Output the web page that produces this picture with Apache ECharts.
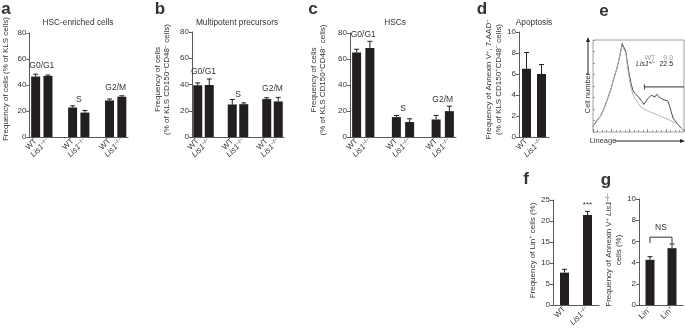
<!DOCTYPE html>
<html>
<head>
<meta charset="utf-8">
<script src="https://cdn.jsdelivr.net/npm/echarts@6/dist/echarts.min.js"></script>
<style>
html, body { margin: 0; padding: 0; background: #fff; }
#main { width: 685px; height: 331px; }
</style>
</head>
<body>
<div id="main"></div>
<script>
// cell-cycle panels (a, b, c): WT / Lis1 pairs for G0/G1, S, G2/M
var phaseCats = ['WT', 'Lis1', '', 'WT', 'Lis1', '', 'WT', 'Lis1'];
var phaseNames = ['G0/G1', 'S', 'G2/M'];
var phaseStart = [0, 3, 6];

var hscEnrichedVals = [46.5, 47.0, null, 22.7, 18.8, null, 28.1, 31.0];
var hscEnrichedErr = [1.8, 0.7, null, 1.3, 1.6, null, 1.1, 0.7];
var hscEnrichedLabelY = [54.6, 29, 37.7];

var mppVals = [39.4, 39.6, null, 24.8, 25.0, null, 28.9, 27.1];
var mppErr = [1.8, 4.6, null, 3.8, 1.0, null, 1.0, 3.1];
var mppLabelY = [49.5, 32.6, 36.5];

var hscVals = [65.0, 68.5, null, 15.3, 11.5, null, 13.5, 19.9];
var hscErr = [2.5, 5.1, null, 1.3, 2.5, null, 3.1, 3.8];
var hscLabelY = [79, 22, 29];

// d, f, g
var genoCats = ['WT', 'Lis1'];
var apoptosisVals = [6.5, 6.0];
var apoptosisErr = [1.55, 0.9];

var linPosVals = [7.7, 21.4];
var linPosErr = [0.8, 0.9];

var linCats = ['Lin-', 'Lin+'];
var annexinVals = [4.26, 5.36];
var annexinErr = [0.3, 0.4];

// e: lineage histogram (x = lineage, % of range; y = cell number, % of max)
var histX = [0, 2, 4, 6, 8, 10, 12, 14, 16, 18, 20, 22, 24, 26, 28, 30, 32, 34, 36, 38, 40,
  42, 44, 46, 48, 50, 52, 54, 56, 58, 60, 62, 64, 66, 68, 70, 72, 74, 76, 78, 80,
  82, 84, 86, 88, 90, 92, 94, 96, 98, 100];
var histLis1 = [6, 8, 12, 13, 17, 21, 25, 31, 36, 42, 48, 55, 62, 68, 76, 85, 96, 97, 88, 74, 62,
  52, 45, 42, 40, 38, 36, 33, 30, 32, 36, 38, 40, 41, 38, 41, 40, 37, 39, 35, 33,
  34, 29, 22, 15, 14, 10, 7, 6, 3, 1];
var histWT = [6, 8, 11, 14, 17, 20, 25, 30, 36, 41, 47, 55, 61, 69, 77, 86, 94, 96, 86, 70, 57,
  47, 41, 37, 34, 31, 28, 26, 25, 24, 23, 22, 21, 21, 20, 19, 18, 17, 16, 15, 15,
  14, 13, 12, 11, 10, 9, 8, 6, 3, 1];
var gateNames = ['WT', 'Lis1'];
var gateValues = ['9.0', '22.5'];

var font = 'Liberation Sans, Arial, sans-serif';
var ink = '#333333';
var barInk = '#231f20';
var axisInk = '#5a5a5a';
var fs = 8;

var rich = {
  i: { fontStyle: 'italic', fontSize: fs, lineHeight: 9.5, fontFamily: font, color: ink },
  s: { fontSize: 5.5, lineHeight: 5.5, verticalAlign: 'top', fontFamily: font, color: ink }
};

function catLabel(v) {
  if (v === 'Lis1') return '{i|Lis1}{s|−/−}';
  if (v === 'Lin-') return 'Lin{s|−}';
  if (v === 'Lin+') return 'Lin{s|+}';
  return v;
}

var grids = [
  { left: 29, top: 33, width: 99, height: 104 },   // a
  { left: 192, top: 32, width: 92, height: 105 },  // b
  { left: 350, top: 33, width: 106, height: 104 }, // c
  { left: 519, top: 32, width: 30, height: 105 },  // d
  { left: 593, top: 40, width: 91, height: 92, show: true, borderColor: '#a0a0a0', borderWidth: 1 }, // e
  { left: 553, top: 200, width: 46, height: 105 }, // f
  { left: 639, top: 199, width: 44, height: 106 }  // g
];

function catAxis(gi, cats) {
  return {
    type: 'category', gridIndex: gi, data: cats,
    axisLine: { lineStyle: { color: axisInk, width: 1 } },
    axisTick: { show: false },
    axisLabel: { rotate: 45, margin: 3, interval: 0, fontSize: fs, lineHeight: 9.5, color: ink,
      fontFamily: font, formatter: catLabel, rich: rich }
  };
}

function valAxis(gi, max, interval, name, gap, lift) {
  return {
    type: 'value', gridIndex: gi, min: 0, max: max, interval: interval,
    axisLine: { show: true, lineStyle: { color: axisInk, width: 1 } },
    axisTick: { show: true, length: 3, lineStyle: { color: axisInk } },
    axisLabel: { fontSize: fs, color: ink, margin: 3, fontFamily: font },
    splitLine: { show: false },
    name: name, nameLocation: 'middle', nameGap: gap, nameRotate: 90,
    nameTextStyle: { fontSize: fs, lineHeight: 9.5, color: ink, fontFamily: font, rich: rich,
      padding: [0, 0, 0, lift || 0] }
  };
}

function barSeries(gi, vals) {
  return { type: 'bar', xAxisIndex: gi, yAxisIndex: gi, data: vals, barWidth: 9,
    itemStyle: { color: barInk }, silent: true };
}

function errSeries(gi, vals, errs) {
  var d = [];
  vals.forEach(function (v, i) { if (v != null) d.push([i, v, v + errs[i]]); });
  return {
    type: 'custom', xAxisIndex: gi, yAxisIndex: gi, data: d, silent: true,
    encode: { x: 0, y: [1, 2] },
    renderItem: function (params, api) {
      var p0 = api.coord([api.value(0), api.value(1)]);
      var p1 = api.coord([api.value(0), api.value(2)]);
      var st = { stroke: barInk, lineWidth: 1 };
      return { type: 'group', children: [
        { type: 'line', shape: { x1: p0[0], y1: p0[1], x2: p1[0], y2: p1[1] }, style: st },
        { type: 'line', shape: { x1: p1[0] - 2.5, y1: p1[1], x2: p1[0] + 2.5, y2: p1[1] }, style: st }
      ] };
    }
  };
}

function phaseLabelSeries(gi, ys) {
  return {
    type: 'custom', xAxisIndex: gi, yAxisIndex: gi, silent: true,
    data: phaseStart.map(function (s, k) { return [s, ys[k], k]; }),
    encode: { x: 0, y: 1 },
    renderItem: function (params, api) {
      var a = api.coord([api.value(0), api.value(1)]);
      var b = api.coord([api.value(0) + 1, api.value(1)]);
      return { type: 'text', x: (a[0] + b[0]) / 2, y: a[1],
        style: { text: phaseNames[api.value(2)], fill: ink, font: '8.5px ' + font,
          align: 'center', verticalAlign: 'middle' } };
    }
  };
}

var xAxes = [
  catAxis(0, phaseCats), catAxis(1, phaseCats), catAxis(2, phaseCats), catAxis(3, genoCats),
  { type: 'value', gridIndex: 4, min: 0, max: 100, interval: 20,
    axisLine: { show: false }, axisLabel: { show: false }, splitLine: { show: false },
    axisTick: { inside: true, length: 3, lineStyle: { color: '#888' } },
    minorTick: { show: true, splitNumber: 4, length: 2, lineStyle: { color: '#999' } } },
  catAxis(5, genoCats), catAxis(6, linCats)
];

var yAxes = [
  valAxis(0, 80, 20, 'Frequency of cells (% of KLS cells)', 19, 12),
  valAxis(1, 80, 20, 'Frequency of cells\n(% of KLS CD150{s|−}CD48{s|−} cells)', 20, 10),
  valAxis(2, 80, 20, 'Frequency of cells\n(% of KLS CD150{s|+}CD48{s|−} cells)', 22, 10),
  valAxis(3, 10, 2, 'Frequency of Annexin V{s|+}, 7-AAD{s|−}\n(% of KLS CD150{s|+}CD48{s|−} cells)', 10, 10),
  { type: 'value', gridIndex: 4, min: 0, max: 100, interval: 12.5,
    axisLine: { show: false }, axisLabel: { show: false }, splitLine: { show: false },
    axisTick: { inside: true, length: 2, lineStyle: { color: '#999' } } },
  valAxis(5, 25, 5, 'Frequency of Lin{s|+} cells (%)', 15, 4),
  valAxis(6, 10, 2, 'Frequency of Annexin V{s|+} {i|Lis1}{s|−/−}\ncells (%)', 14, 4)
];

var series = [
  barSeries(0, hscEnrichedVals), errSeries(0, hscEnrichedVals, hscEnrichedErr), phaseLabelSeries(0, hscEnrichedLabelY),
  barSeries(1, mppVals), errSeries(1, mppVals, mppErr), phaseLabelSeries(1, mppLabelY),
  barSeries(2, hscVals), errSeries(2, hscVals, hscErr), phaseLabelSeries(2, hscLabelY),
  barSeries(3, apoptosisVals), errSeries(3, apoptosisVals, apoptosisErr),
  barSeries(5, linPosVals), errSeries(5, linPosVals, linPosErr),
  barSeries(6, annexinVals), errSeries(6, annexinVals, annexinErr),
  // e histogram
  { type: 'line', xAxisIndex: 4, yAxisIndex: 4, showSymbol: false, silent: true,
    data: histX.map(function (x, i) { return [x, histLis1[i]]; }),
    lineStyle: { color: '#4a4a4a', width: 1 } },
  { type: 'line', xAxisIndex: 4, yAxisIndex: 4, showSymbol: false, silent: true,
    data: histX.map(function (x, i) { return [x, histWT[i]]; }),
    lineStyle: { color: '#b4b4b4', width: 1 } },
  // e gate
  { type: 'custom', xAxisIndex: 4, yAxisIndex: 4, silent: true, data: [[56.5, 100, 49]],
    renderItem: function (params, api) {
      var a = api.coord([api.value(0), api.value(2)]);
      var b = api.coord([api.value(1), api.value(2)]);
      var st = { stroke: '#333', lineWidth: 1 };
      return { type: 'group', children: [
        { type: 'line', shape: { x1: a[0], y1: a[1], x2: b[0], y2: b[1] }, style: st },
        { type: 'line', shape: { x1: a[0], y1: a[1] - 2.5, x2: a[0], y2: a[1] + 2.5 }, style: st }
      ] };
    } },
  // e legend
  { type: 'custom', xAxisIndex: 4, yAxisIndex: 4, silent: true,
    data: [[68.5, 88, 80.4, 0], [68.5, 88, 74, 1]],
    renderItem: function (params, api) {
      var k = api.value(3);
      var c = k === 0 ? '#9a9a9a' : '#2a2a2a';
      var a = api.coord([api.value(0), api.value(2)]);
      var b = api.coord([api.value(1), api.value(2)]);
      var name = k === 0 ? gateNames[0] : '{i|' + gateNames[1] + '}{s|+/−}';
      return { type: 'group', children: [
        { type: 'text', x: a[0], y: a[1], style: { text: name, fill: c, font: '7px ' + font,
          align: 'right', verticalAlign: 'middle',
          rich: { i: { fontStyle: 'italic', fontSize: 7, lineHeight: 8, fill: c, fontFamily: font },
                  s: { fontSize: 4.5, lineHeight: 4.5, verticalAlign: 'top', fill: c, fontFamily: font } } } },
        { type: 'text', x: b[0], y: b[1], style: { text: gateValues[k], fill: c, font: '7px ' + font,
          align: 'right', verticalAlign: 'middle' } }
      ] };
    } },
  // f significance
  { type: 'custom', xAxisIndex: 5, yAxisIndex: 5, silent: true, data: [[1, 23.8]],
    renderItem: function (params, api) {
      var p = api.coord([api.value(0), api.value(1)]);
      return { type: 'text', x: p[0], y: p[1], style: { text: '***', fill: ink, font: fs + 'px ' + font,
        align: 'center', verticalAlign: 'middle' } };
    } },
  // g NS bracket
  { type: 'custom', xAxisIndex: 6, yAxisIndex: 6, silent: true, data: [[0, 1, 6.4, 5.85, 7.25]],
    renderItem: function (params, api) {
      var a = api.coord([api.value(0), api.value(2)]);
      var b = api.coord([api.value(1), api.value(2)]);
      var foot = api.coord([api.value(0), api.value(3)])[1];
      var t = api.coord([api.value(0), api.value(4)])[1];
      return { type: 'group', children: [
        { type: 'polyline', shape: { points: [[a[0], foot], [a[0], a[1]], [b[0], b[1]], [b[0], foot]] },
          style: { stroke: ink, lineWidth: 1, fill: null } },
        { type: 'text', x: (a[0] + b[0]) / 2, y: t, style: { text: 'NS', fill: ink, font: '8.5px ' + font,
          align: 'center', verticalAlign: 'middle' } }
      ] };
    } }
];

function txt(t, x, y, f, extra) {
  var o = { type: 'text', x: x, y: y, silent: true,
    style: { text: t, fill: ink, font: f, align: 'center', verticalAlign: 'middle' } };
  if (extra) for (var k in extra) o[k] = extra[k];
  return o;
}

var letterFont = 'bold 17px ' + font;
var titleFont = '8.3px ' + font;
var graphics = [
  txt('a', 6, 9.5, letterFont), txt('b', 160, 9.5, letterFont), txt('c', 313, 9.5, letterFont),
  txt('d', 482, 9.5, letterFont), txt('e', 604, 11, letterFont), txt('f', 526, 179, letterFont),
  txt('g', 606, 180, letterFont),
  txt('HSC-enriched cells', 78, 23, titleFont), txt('Multipotent precursors', 237, 23, titleFont),
  txt('HSCs', 395, 23, titleFont), txt('Apoptosis', 534, 23, titleFont),
  txt('Cell number', 588, 93, '7.5px ' + font, { rotation: Math.PI / 2 }),
  txt('Lineage', 603, 141, '7.5px ' + font),
  { type: 'polyline', silent: true, shape: { points: [[588, 75], [588, 41]] }, style: { stroke: '#222', lineWidth: 1 } },
  { type: 'polygon', silent: true, shape: { points: [[588, 37], [586, 42], [590, 42]] }, style: { fill: '#222' } },
  { type: 'polyline', silent: true, shape: { points: [[615, 141], [681, 141]] }, style: { stroke: '#222', lineWidth: 1 } },
  { type: 'polygon', silent: true, shape: { points: [[685, 141], [680, 139], [680, 143]] }, style: { fill: '#222' } }
];

var myChart = echarts.init(document.getElementById('main'));
myChart.setOption({
  animation: false,
  textStyle: { fontFamily: font },
  grid: grids,
  xAxis: xAxes,
  yAxis: yAxes,
  series: series,
  graphic: graphics
});
</script>
</body>
</html>
